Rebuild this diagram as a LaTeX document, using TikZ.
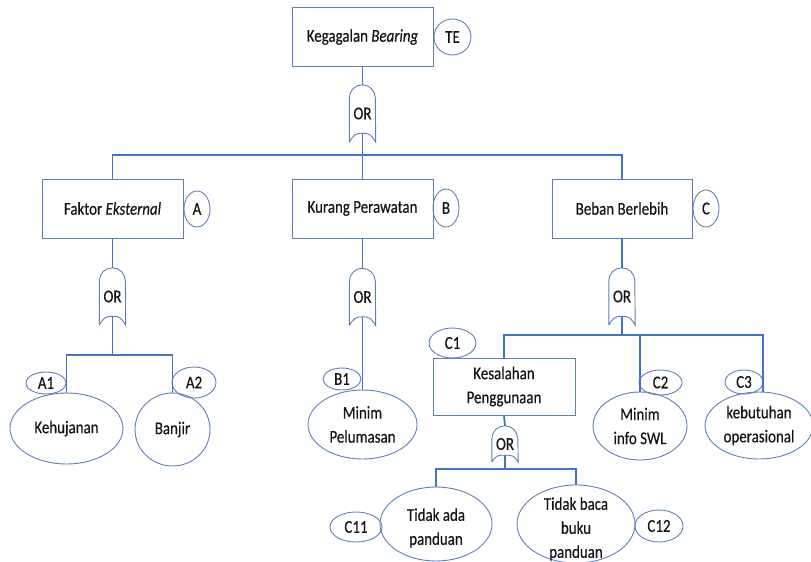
\documentclass[tikz,border=0pt]{standalone}
\usepackage{fontspec}
\setmainfont[FakeStretch=0.83,FakeBold=0.4]{Carlito}
\usetikzlibrary{shapes.geometric,calc}
\definecolor{connc}{RGB}{68,114,196}
\definecolor{edgec}{RGB}{95,125,190}
\definecolor{ink}{RGB}{20,20,20}
\newcommand\drawgate[1]{\draw[gateline] (#1.south west) -- ([yshift=-13pt]#1.north west) arc[start angle=180,end angle=0,radius=13pt] -- (#1.south east) .. controls +(-4pt,7pt) and +(7pt,0pt) .. (#1n) .. controls +(-7pt,0pt) and +(4pt,7pt) .. (#1.south west);}
\begin{document}
\begin{tikzpicture}[x=1pt,y=-1pt, font=\fontsize{18}{24}\selectfont, text=ink,
 box/.style={draw=edgec,line width=0.9pt,rectangle,inner sep=0pt,minimum width=141pt,minimum height=59pt},
 tag/.style={draw=edgec,line width=0.9pt,ellipse,inner sep=0pt},
 ev/.style={draw=edgec,line width=0.9pt,ellipse,inner sep=0pt},
 evtxt/.style={align=center,inner sep=0pt},
 gate/.style={inner sep=0pt,minimum width=26pt,minimum height=57pt},
 conn/.style={draw=connc,line width=1.8pt},
 gateline/.style={draw=edgec,line width=0.9pt}]
\useasboundingbox (0,0) rectangle (811,562);

% top event
\node[box] (te) at (362.5,37) {Kegagalan \textit{Bearing}};
\node[tag,minimum width=37pt,minimum height=36pt] (tel) at (452.5,37) {TE};
\node[gate] (g0) at (362.5,113.5) {OR};
\coordinate (g0n) at ([yshift=9pt]g0.south);
\drawgate{g0}

% level 1
\node[box] (A) at (112.5,208.5) {Faktor \textit{Eksternal}};
\node[tag,minimum width=26pt,minimum height=36pt] (Al) at (197,209) {A};
\node[box] (B) at (362.5,208.5) {Kurang Perawatan};
\node[tag,minimum width=26pt,minimum height=38pt] (Bl) at (446,208) {B};
\node[box,minimum width=140pt] (C) at (622,208.5) {Beban Berlebih};
\node[tag,minimum width=26pt,minimum height=37pt] (Cl) at (706,208.5) {C};

\node[gate] (gA) at (112.5,296.5) {OR};
\coordinate (gAn) at ([yshift=9pt]gA.south);
\drawgate{gA}
\node[gate] (gB) at (362.5,297) {OR};
\coordinate (gBn) at ([yshift=9pt]gB.south);
\drawgate{gB}
\node[gate] (gC) at (622,296.5) {OR};
\coordinate (gCn) at ([yshift=9pt]gC.south);
\drawgate{gC}

% basic events A
\node[ev,minimum width=113pt,minimum height=71pt] (keh) at (66.5,428.5) {};
\node[evtxt] (kehT) at (keh) {Kehujanan};
\node[tag,minimum width=40pt,minimum height=22pt] (A1) at (46,383) {A1};
\node[ev,minimum width=75pt,minimum height=73pt] (ban) at (172.5,429.5) {};
\node[evtxt] (banT) at (ban) {Banjir};
\node[tag,minimum width=44pt,minimum height=31pt] (A2) at (194,382.5) {A2};

% B
\node[ev,minimum width=109pt,minimum height=69pt] (pel) at (362.5,424.5) {};
\node[evtxt] (pelT) at (pel) {Minim\\Pelumasan};
\node[tag,minimum width=38pt,minimum height=22pt] (B1) at (342,379) {B1};

% C
\node[box,minimum width=142pt,minimum height=57pt,align=center] (kes) at (504,386.5) {Kesalahan\\Penggunaan};
\node[tag,minimum width=47pt,minimum height=30pt] (C1) at (452.5,343) {C1};
\node[ev,minimum width=94pt,minimum height=68pt] (swl) at (640,426) {};
\node[evtxt] (swlT) at (swl) {Minim\\info SWL};
\node[tag,minimum width=43pt,minimum height=25pt] (C2) at (660.5,382.5) {C2};
\node[ev,minimum width=108pt,minimum height=67pt] (keb) at (759,425.5) {};
\node[evtxt] (kebT) at (keb) {kebutuhan\\operasional};
\node[tag,minimum width=38pt,minimum height=24pt] (C3) at (744,382) {C3};

\node[gate,minimum height=36pt] (gK) at (505,444) {OR};
\coordinate (gKn) at ([yshift=7pt]gK.south);
\drawgate{gK}

\node[ev,minimum width=112pt,minimum height=74pt] (tda) at (436,524) {};
\node[evtxt] (tdaT) at (436,528) {Tidak ada\\panduan};
\node[tag,minimum width=52pt,minimum height=30pt] (C11) at (356,527) {C11};
\node[ev,minimum width=118pt,minimum height=78pt] (tdb) at (576,524) {};
\node[evtxt] (tdbT) at (576,529) {Tidak baca\\buku\\panduan};
\node[tag,minimum width=48pt,minimum height=32pt] (C12) at (659,526) {C12};

% connectors
\coordinate (bus0) at (362.5,155);
\draw[conn] (te.south) -- (g0.north);
\draw[conn] (g0n) -- (B.north);
\draw[conn] (A.north) |- (bus0) -| (C.north);

\draw[conn] (A.south) -- (gA.north);
\coordinate (busA) at (112.5,355);
\draw[conn] (gAn) -- (busA);
\draw[conn] (keh.north) |- (busA) -| (ban.north);

\draw[conn] (B.south) -- (gB.north);
\draw[conn] (gBn) -- (pel.north);

\draw[conn] (C.south) -- (gC.north);
\coordinate (busC) at (622,335);
\coordinate (kebtop) at ([xshift=4pt]keb.north);
\draw[conn] (gCn) -- (busC);
\draw[conn] (kes.north) |- (busC) -| (kebtop);
\draw[conn] (swl.north) -- (swl.north |- busC);

\draw[conn] (kes.south) -- (gK.north);
\coordinate (busK) at (505,469);
\draw[conn] (gKn) -- (busK);
\draw[conn] (tda.north) |- (busK) -| (tdb.north);
\end{tikzpicture}
\end{document}
